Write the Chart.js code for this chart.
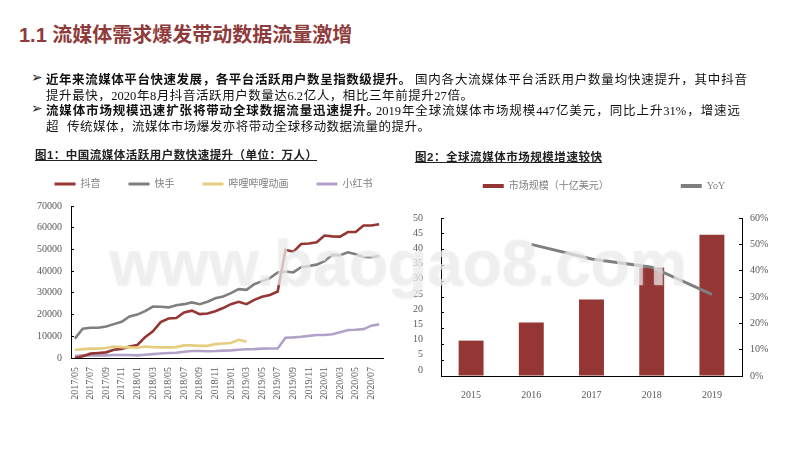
<!DOCTYPE html>
<html lang="zh"><head><meta charset="utf-8">
<script src="https://cdn.jsdelivr.net/npm/chart.js@4"></script>
<style>
html,body{margin:0;padding:0;background:#fff;width:800px;height:450px;overflow:hidden}
canvas{position:absolute;z-index:1}
.t{position:absolute;white-space:normal;text-align:justify;text-align-last:justify;color:#111;z-index:2;line-height:16px;height:16px;overflow:visible}
.b{font:700 12.5px "Liberation Sans","Noto Sans CJK SC",sans-serif}
.r{font:400 12.5px "Liberation Serif","Noto Sans CJK SC",serif}
.mk{position:absolute;left:31px;font:14px "DejaVu Sans";color:#222;z-index:2;line-height:16px}
#title{position:absolute;left:19px;top:22px;font:700 20px/26px "Liberation Sans","Noto Sans CJK SC",sans-serif;color:#8f3b3b;white-space:nowrap;z-index:2}
.ct{position:absolute;font:700 11.5px/16px "Liberation Sans","Noto Sans CJK SC",sans-serif;color:#222;text-decoration:underline;text-align:justify;text-align-last:justify;z-index:2}
#wm{position:absolute;left:109px;top:226px;font:700 64px/74px "Liberation Sans",sans-serif;color:rgba(238,238,238,.68);white-space:nowrap;z-index:3;text-shadow:1px 1px 2px rgba(205,205,205,.25)}
</style></head><body>
<div id="title">1.1 流媒体需求爆发带动数据流量激增</div>
<div class="mk" style="top:69px">➢</div>
<div class="t b" style="left:46px;top:69px;width:365px">近年来流媒体平台快速发展，各平台活跃用户数呈指数级提升。</div>
<div class="t r" style="left:415px;top:69px;width:332px">国内各大流媒体平台活跃用户数量均快速提升，其中抖音</div>
<div class="t r" style="left:46px;top:85px;width:427px">提升最快，2020年8月抖音活跃用户数量达6.2亿人，相比三年前提升27倍。</div>
<div class="mk" style="top:100px">➢</div>
<div class="t b" style="left:46px;top:100px;width:333px">流媒体市场规模迅速扩张将带动全球数据流量迅速提升。</div>
<div class="t r" style="left:376px;top:100px;width:364px">2019年全球流媒体市场规模447亿美元，同比上升31%，增速远</div>
<div class="t r" style="left:46px;top:116px;width:16px">超</div>
<div class="t r" style="left:67px;top:116px;width:363px">传统媒体，流媒体市场爆发亦将带动全球移动数据流量的提升。</div>
<div class="ct" style="left:35px;top:147px;width:282px">图1：中国流媒体活跃用户数快速提升（单位：万人）</div>
<div class="ct" style="left:415px;top:149px;width:187px">图2：全球流媒体市场规模增速较快</div>
<canvas id="c1" width="427" height="259" style="left:0;top:151px"></canvas>
<canvas id="c2" width="418" height="291" style="left:395px;top:109px"></canvas>
<div id="wm">www.baogao8.com</div>
<script>
const months = ["2017/05","2017/06","2017/07","2017/08","2017/09","2017/10","2017/11","2017/12","2018/01","2018/02","2018/03","2018/04","2018/05","2018/06","2018/07","2018/08","2018/09","2018/10","2018/11","2018/12","2019/01","2019/02","2019/03","2019/04","2019/05","2019/06","2019/07","2019/08","2019/09","2019/10","2019/11","2019/12","2020/01","2020/02","2020/03","2020/04","2020/05","2020/06","2020/07","2020/08"];
const douyin = [0,800,2000,2300,2600,3800,4200,5300,6000,9600,12300,16500,18200,18400,21000,21800,20200,20500,21500,23000,24800,25900,24800,26800,28200,29000,30600,49800,48900,52500,52700,53300,56400,56000,55900,58000,58000,61000,61000,61600];
const kuaishou = [8900,13500,13900,13900,14500,15600,16700,19100,20000,21600,23700,23600,23300,24300,24800,25600,24800,25900,27500,28300,29900,31700,31400,34000,35400,36800,39400,39800,39400,41800,42400,43000,44600,47500,47300,48700,47800,46500,46400,47000];
const bilibili = [3700,4100,4300,4300,4600,5300,5000,4900,4700,5300,5000,4900,4900,5000,5800,5800,5600,5600,6400,6700,6900,8400,7500];
const xiaohongshu = [900,1200,1200,1200,1200,1400,1400,1400,1200,1500,1800,2100,2300,2400,2900,3200,3200,3100,3200,3400,3500,3800,4000,4100,4300,4400,4400,9300,9500,9800,10200,10600,10600,10900,11900,12900,13000,13300,14900,15500];
const years = ["2015","2016","2017","2018","2019"];
const marketSize = [11.2,16.9,24.2,34.3,44.7];
const yoy = [null,50,44.4,41.3,31];
const sizeTicks = [0,5,10,15,20,25,30,35,40,45,50];
const seriesNames1 = ["抖音","快手","哔哩哔哩动画","小红书"];
const seriesNames2 = ["市场规模（十亿美元）","YoY"];

const RED="#943634",GREY="#7f7f7f",YEL="#e6cd80",PUR="#b2a2c7",TXT="#595959";
const sans='"Liberation Serif","Noto Sans CJK SC",serif';
Chart.defaults.font.family=sans; Chart.defaults.font.size=10; Chart.defaults.color=TXT;
const legendFit=h=>({id:'legendFit',beforeLayout(ch){const l=ch.legend;if(l&&!l._fx){l._fx=1;const f=l.fit.bind(l);l.fit=function(){f();this.height=h;};}}});
const legendOpt=(pad,bh)=>({position:'top',labels:{boxWidth:21,boxHeight:bh,padding:pad,font:{size:10,family:sans},color:'#7f7f7f',
  sort:(a,b)=>a.datasetIndex-b.datasetIndex,
  generateLabels:c=>Chart.defaults.plugins.legend.labels.generateLabels(c).map(i=>({...i,lineWidth:0}))}});
const fix=(w,h)=>s=>{if(w!=null)s.width=w;if(h!=null)s.height=h;};
const line=(label,data,color,extra={})=>({type:'line',label,data,borderColor:color,backgroundColor:color,borderWidth:2.6,pointRadius:0,tension:0,spanGaps:false,...extra});

new Chart(document.getElementById('c1'),{type:'line',
 data:{labels:months,datasets:[line(seriesNames1[0],douyin,RED),line(seriesNames1[1],kuaishou,GREY),line(seriesNames1[2],bilibili,YEL),line(seriesNames1[3],xiaohongshu,PUR)].map((d,i)=>({...d,order:[1,2,0,3][i]}))},
 options:{responsive:false,animation:false,
  plugins:{legend:legendOpt(28,3),tooltip:{enabled:false}},
  scales:{
   x:{offset:true,grid:{display:false},border:{color:'#000'},afterFit:fix(null,52),
      ticks:{autoSkip:false,minRotation:90,maxRotation:90,padding:1,font:{size:10},color:TXT,callback(v,i){return i%2===0?this.getLabelForValue(v):null;}}},
   y:{min:0,max:70000,afterFit:fix(71,null),border:{color:'#000'},
      grid:{drawOnChartArea:false,tickLength:-3,color:'#000'},
      ticks:{stepSize:10000,padding:12,font:{size:10},color:TXT,callback:v=>String(v)}},
   yPad:{position:'right',min:0,max:1,afterFit:fix(44,null),border:{display:false},grid:{display:false},ticks:{display:false}}
  }},plugins:[legendFit(55)]});

new Chart(document.getElementById('c2'),{type:'bar',
 data:{labels:years,datasets:[
  {type:'bar',label:seriesNames2[0],data:marketSize,backgroundColor:RED,borderWidth:0,categoryPercentage:1,barPercentage:.414,yAxisID:'y',order:2},
  line(seriesNames2[1],yoy,GREY,{yAxisID:'y2',order:1,borderWidth:3})]},
 options:{responsive:false,animation:false,
  plugins:{legend:legendOpt(72,4),tooltip:{enabled:false}},
  scales:{
   x:{grid:{display:false},border:{color:'#000'},afterFit:fix(null,24),ticks:{padding:5,font:{size:10},color:TXT}},
   y:{position:'left',weight:0,min:0,max:50,afterFit:fix(10,null),border:{color:'#000'},
      grid:{drawOnChartArea:false,tickLength:-3,color:'#000'},ticks:{stepSize:5,display:false}},
   yLabel:{axis:'y',position:'left',weight:1,min:-2,max:50,afterFit:fix(36,null),border:{display:false},grid:{display:false},
      afterBuildTicks:s=>{s.ticks=sizeTicks.map(value=>({value}));},
      ticks:{padding:0,autoSkip:false,font:{size:10},color:TXT}},
   y2:{position:'right',min:0,max:60,afterFit:fix(71,null),border:{color:'#000'},
      grid:{drawOnChartArea:false,tickLength:-3,color:'#000'},
      ticks:{stepSize:10,padding:11,font:{size:10},color:TXT,callback:v=>v+'%'}}
  }},plugins:[legendFit(109)]});
</script>
</body></html>
